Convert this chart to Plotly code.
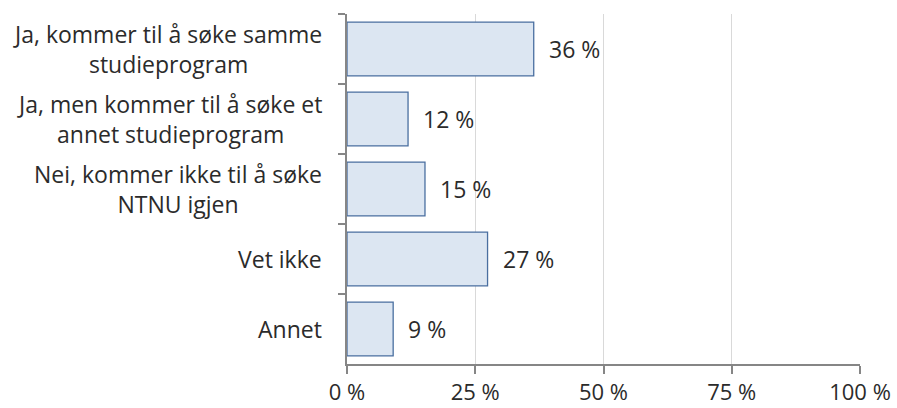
import plotly.graph_objects as go

categories = [
    "Ja, kommer til å søke samme<br>studieprogram",
    "Ja, men kommer til å søke et<br>annet studieprogram",
    "Nei, kommer ikke til å søke<br>NTNU igjen",
    "Vet ikke",
    "Annet",
]
values = [36.4, 11.9, 15.2, 27.4, 9.0]
x_ticks = [0, 25, 50, 75, 100]
x_tick_labels = ["0 %", "25 %", "50 %", "75 %", "100 %"]

FONT = "Open Sans"
TXT = "#2b2b2b"
FS = 23

fig = go.Figure()
fig.add_trace(go.Bar(
    y=categories, x=values, orientation="h",
    marker=dict(color="#dce6f2", line=dict(color="#4a6fa0", width=1.3)),
    width=0.77, hoverinfo="skip",
))

annotations = []
for c, v in zip(categories, values):
    annotations.append(dict(
        x=v, y=c, xref="x", yref="y", text=f"{round(v)} %",
        xanchor="left", xshift=13, showarrow=False,
        font=dict(family=FONT, size=FS, color=TXT),
    ))
    annotations.append(dict(
        x=0, y=c, xref="paper", yref="y", text=c,
        xanchor="right", xshift=-23, align="center", showarrow=False,
        font=dict(family=FONT, size=FS, color=TXT),
    ))

fig.update_layout(
    width=897, height=408,
    margin=dict(l=347, r=37, t=14, b=44),
    paper_bgcolor="white", plot_bgcolor="white",
    showlegend=False,
    annotations=annotations,
    xaxis=dict(
        range=[0, 100], tickvals=x_ticks, ticktext=x_tick_labels,
        showgrid=True, gridcolor="#d9d9d9", gridwidth=1,
        showline=True, linecolor="#868686", linewidth=1.5,
        ticks="outside", ticklen=8, tickcolor="#868686", tickwidth=1.5,
        tickfont=dict(family=FONT, size=22, color=TXT),
        zeroline=False, fixedrange=True, automargin=False,
    ),
    yaxis=dict(
        autorange="reversed", showticklabels=False,
        tickson="boundaries", ticks="outside", ticklen=7,
        tickcolor="#868686", tickwidth=1.5,
        showline=True, linecolor="#868686", linewidth=1.5,
        showgrid=False, fixedrange=True, automargin=False,
    ),
)

fig.write_html(
    "out.html",
    config={"displayModeBar": False},
    post_script="document.body.style.margin='0';document.body.style.overflow='hidden';",
)
